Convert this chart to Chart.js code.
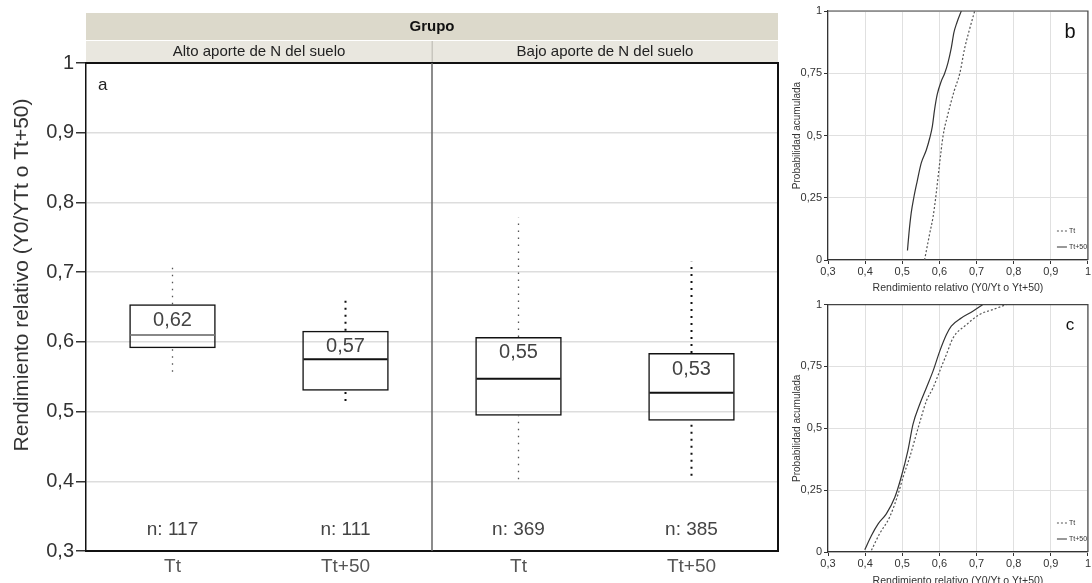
<!DOCTYPE html>
<html>
<head>
<meta charset="utf-8">
<script src="https://cdn.jsdelivr.net/npm/chart.js@4.4.1/dist/chart.umd.min.js"></script>
<style>
  html, body { margin: 0; padding: 0; background: #fff; }
  #wrap { position: relative; width: 1092px; height: 583px; overflow: hidden; }
  canvas { position: absolute; }
  #boxChart { left: 0; top: 0; }
  #cdfB { left: 780px; top: 0; }
  #cdfC { left: 780px; top: 296px; }
</style>
</head>
<body>
<div id="wrap">
  <canvas id="boxChart" width="785" height="583"></canvas>
  <canvas id="cdfB" width="312" height="296"></canvas>
  <canvas id="cdfC" width="312" height="287"></canvas>
</div>
<script>
Chart.defaults.font.family = '"Liberation Sans", Arial, sans-serif';
Chart.defaults.color = '#333';

// Panel a - box plots, one facet per soil N group
const groupTitle = 'Grupo';
const facets = ['Alto aporte de N del suelo', 'Bajo aporte de N del suelo'];
const categories = ['Tt', 'Tt+50'];
const whiskerLow = [0.557, 0.515, 0.403, 0.408];
const q1 = [0.591, 0.530, 0.494, 0.487];
const median = [0.610, 0.575, 0.547, 0.527];
const q3 = [0.654, 0.616, 0.607, 0.584];
const whiskerHigh = [0.713, 0.663, 0.778, 0.715];
const means = [0.62, 0.57, 0.55, 0.53];
const counts = [117, 111, 369, 385];

// Panels b and c - cumulative probability, [x, y]
const cdfBTt = [[0.560, 0], [0.574, 0.107], [0.583, 0.174], [0.590, 0.25], [0.600, 0.38], [0.610, 0.5],
  [0.622, 0.58], [0.640, 0.68], [0.655, 0.75], [0.668, 0.85], [0.680, 0.92], [0.695, 1]];
const cdfBTt50 = [[0.514, 0.038], [0.518, 0.107], [0.524, 0.188], [0.531, 0.25], [0.540, 0.315], [0.551, 0.389],
  [0.565, 0.443], [0.574, 0.49], [0.581, 0.537], [0.587, 0.604], [0.594, 0.664], [0.605, 0.718],
  [0.614, 0.749], [0.623, 0.792], [0.632, 0.852], [0.639, 0.913], [0.647, 0.953], [0.659, 1]];
const cdfCTt = [[0.417, 0.007], [0.439, 0.074], [0.466, 0.141], [0.489, 0.235], [0.502, 0.302], [0.520, 0.383],
  [0.538, 0.477], [0.551, 0.544], [0.565, 0.611], [0.583, 0.664], [0.601, 0.732], [0.619, 0.799],
  [0.637, 0.866], [0.673, 0.919], [0.708, 0.96], [0.744, 0.98], [0.780, 1]];
const cdfCTt50 = [[0.399, 0.009], [0.417, 0.067], [0.435, 0.114], [0.457, 0.154], [0.480, 0.221], [0.497, 0.302],
  [0.515, 0.409], [0.529, 0.517], [0.547, 0.597], [0.565, 0.664], [0.583, 0.732], [0.601, 0.812],
  [0.619, 0.879], [0.632, 0.913], [0.659, 0.946], [0.690, 0.973], [0.717, 1]];

// comma decimals, like the original
function fmt(v) {
  return (Math.round(v * 100) / 100).toString().replace('.', ',');
}

// unique keys so the repeated Tt / Tt+50 labels stay separate slots
const keys = [];
const tickText = [];
facets.forEach(f => categories.forEach(c => { keys.push(f + ' | ' + c); tickText.push(c); }));

const whiskerSets = keys.map((k, i) => {
  const isTt = tickText[i] === 'Tt';
  return {
    type: 'line',
    data: [{x: k, y: whiskerLow[i]}, {x: k, y: q1[i]}, {x: k, y: null}, {x: k, y: q3[i]}, {x: k, y: whiskerHigh[i]}],
    borderColor: isTt ? '#555' : '#111',
    borderWidth: isTt ? 1.3 : 2,
    borderDash: isTt ? [1.5, 5.5] : [2, 5],
    pointRadius: 0,
    spanGaps: false,
    order: 3
  };
});

const facetFrame = {
  id: 'facetFrame',
  beforeDraw(chart) {
    const {ctx, chartArea: a, scales: {x}} = chart;
    const mid = (x.getPixelForValue(1) + x.getPixelForValue(2)) / 2;
    ctx.save();
    ctx.fillStyle = '#dcd9cb';
    ctx.fillRect(a.left, 13, a.right - a.left, 27);
    ctx.fillStyle = '#e9e7df';
    ctx.fillRect(a.left, 41, a.right - a.left, a.top - 41);
    ctx.fillStyle = '#c8c6be';
    ctx.fillRect(mid - 0.5, 41, 1.5, a.top - 41);
    ctx.textAlign = 'center';
    ctx.textBaseline = 'middle';
    ctx.fillStyle = '#111';
    ctx.font = 'bold 15px "Liberation Sans", Arial';
    ctx.fillText(groupTitle, (a.left + a.right) / 2, 27);
    ctx.fillStyle = '#222';
    ctx.font = '15px "Liberation Sans", Arial';
    ctx.fillText(facets[0], (a.left + mid) / 2, 52);
    ctx.fillText(facets[1], (mid + a.right) / 2, 52);
    ctx.restore();
  },
  afterDraw(chart) {
    const {ctx, chartArea: a, scales: {x, y}} = chart;
    const mid = (x.getPixelForValue(1) + x.getPixelForValue(2)) / 2;
    ctx.save();
    // frame
    ctx.strokeStyle = '#111';
    ctx.lineWidth = 2;
    ctx.beginPath();
    ctx.moveTo(a.left, a.top);
    ctx.lineTo(a.right, a.top);
    ctx.lineTo(a.right, a.bottom);
    ctx.stroke();
    ctx.strokeStyle = '#666';
    ctx.lineWidth = 1.5;
    ctx.beginPath();
    ctx.moveTo(mid, a.top);
    ctx.lineTo(mid, a.bottom);
    ctx.stroke();
    // panel letter
    ctx.fillStyle = '#222';
    ctx.font = '17px "Liberation Sans", Arial';
    ctx.textAlign = 'left';
    ctx.textBaseline = 'middle';
    ctx.fillText('a', a.left + 12, a.top + 22);
    // means and counts
    ctx.textAlign = 'center';
    ctx.fillStyle = '#444';
    keys.forEach((k, i) => {
      const cx = x.getPixelForValue(i);
      ctx.font = '20px "Liberation Sans", Arial';
      ctx.fillText(fmt(means[i]), cx, y.getPixelForValue(q3[i]) + 16);
      ctx.font = '19px "Liberation Sans", Arial';
      ctx.fillText('n: ' + counts[i], cx, a.bottom - 21);
    });
    // y axis title
    ctx.translate(22, 275);
    ctx.rotate(-Math.PI / 2);
    ctx.fillStyle = '#333';
    ctx.font = '21px "Liberation Sans", Arial';
    ctx.fillText('Rendimiento relativo (Y0/YTt o Tt+50)', 0, 0);
    ctx.restore();
  }
};

new Chart(document.getElementById('boxChart'), {
  type: 'bar',
  data: {
    labels: keys,
    datasets: [
      ...whiskerSets,
      {
        type: 'bar',
        data: q1.map((v, i) => [v, q3[i]]),
        backgroundColor: 'rgba(0,0,0,0)',
        borderColor: '#111',
        borderWidth: 1.5,
        borderSkipped: false,
        barPercentage: 0.5,
        categoryPercentage: 1,
        order: 2
      },
      {
        type: 'line',
        data: median.map((v, i) => ({x: keys[i], y: v})),
        showLine: false,
        pointStyle: 'line',
        pointRadius: 42,
        pointBorderWidth: 2,
        pointBorderColor: ['#888', '#111', '#111', '#111'],
        order: 1
      }
    ]
  },
  options: {
    responsive: false,
    animation: false,
    events: [],
    layout: { autoPadding: false, padding: { top: 63, right: 7, left: 0, bottom: 0 } },
    plugins: { legend: { display: false }, tooltip: { enabled: false } },
    scales: {
      x: {
        grid: { display: false, drawTicks: false },
        border: { color: '#111', width: 2 },
        ticks: { color: '#555', font: { size: 19 }, padding: 4, maxRotation: 0, callback: (v, i) => tickText[i] },
        afterFit: s => { s.height = 32; s.paddingLeft = 0; s.paddingRight = 0; }
      },
      y: {
        min: 0.3,
        max: 1,
        ticks: { stepSize: 0.1, color: '#333', font: { size: 20 }, padding: 2, callback: v => fmt(v) },
        grid: { color: '#dddddd', lineWidth: 1.5, tickColor: '#333', tickLength: 10 },
        border: { color: '#111', width: 1.5 },
        afterFit: s => { s.width = 86; }
      }
    }
  },
  plugins: [facetFrame]
});

const cdfDecor = {
  id: 'cdfDecor',
  afterDraw(chart, args, opts) {
    const {ctx, chartArea: a} = chart;
    ctx.save();
    ctx.strokeStyle = '#444';
    ctx.lineWidth = 1.2;
    ctx.beginPath();
    ctx.moveTo(a.left, a.top);
    ctx.lineTo(a.right, a.top);
    ctx.lineTo(a.right, a.bottom);
    ctx.stroke();
    ctx.fillStyle = '#111';
    ctx.font = opts.letterSize + 'px "Liberation Sans", Arial';
    ctx.textAlign = 'center';
    ctx.textBaseline = 'middle';
    ctx.fillText(opts.letter, a.right - 18, a.top + 21);
    // legend
    ctx.font = '7px "Liberation Sans", Arial';
    ctx.textAlign = 'left';
    chart.data.datasets.forEach((ds, i) => {
      const ly = a.bottom - 29 + i * 16;
      ctx.strokeStyle = ds.borderColor;
      ctx.lineWidth = 1;
      ctx.setLineDash(ds.borderDash || []);
      ctx.beginPath();
      ctx.moveTo(a.right - 31, ly);
      ctx.lineTo(a.right - 21, ly);
      ctx.stroke();
      ctx.setLineDash([]);
      ctx.fillStyle = '#333';
      ctx.fillText(ds.label, a.right - 19, ly);
    });
    ctx.restore();
  }
};

function cdfChart(id, letter, letterSize, ttData, tt50Data, topPad, xHeight, titlePad) {
  return new Chart(document.getElementById(id), {
    type: 'scatter',
    data: {
      datasets: [
        {
          label: 'Tt',
          data: ttData.map(p => ({x: p[0], y: p[1]})),
          showLine: true,
          borderColor: '#555',
          borderDash: [2, 2],
          borderWidth: 1.2,
          pointRadius: 0,
          cubicInterpolationMode: 'monotone'
        },
        {
          label: 'Tt+50',
          data: tt50Data.map(p => ({x: p[0], y: p[1]})),
          showLine: true,
          borderColor: '#333',
          borderWidth: 1.2,
          pointRadius: 0,
          cubicInterpolationMode: 'monotone'
        }
      ]
    },
    options: {
      responsive: false,
      animation: false,
      events: [],
      layout: { padding: { top: topPad, right: 4, left: 0, bottom: 0 } },
      plugins: {
        legend: { display: false },
        tooltip: { enabled: false },
        cdfDecor: { letter: letter, letterSize: letterSize }
      },
      scales: {
        x: {
          type: 'linear',
          min: 0.3,
          max: 1,
          ticks: { stepSize: 0.1, autoSkip: false, maxRotation: 0, color: '#333', font: { size: 11 }, padding: 1, callback: v => fmt(v) },
          grid: { color: '#e0e0e0', tickColor: '#333', tickLength: 4 },
          border: { color: '#333', width: 1.2 },
          title: {
            display: true,
            text: 'Rendimiento relativo (Y0/Yt o Yt+50)',
            color: '#333',
            font: { size: 10.5, lineHeight: 1 },
            padding: { top: 0, bottom: titlePad }
          },
          afterFit: s => { s.height = xHeight; }
        },
        y: {
          min: 0,
          max: 1,
          ticks: { stepSize: 0.25, color: '#333', font: { size: 11 }, padding: 2, callback: v => fmt(v) },
          grid: { color: '#e0e0e0', tickColor: '#333', tickLength: 4 },
          border: { color: '#333', width: 1.2 },
          title: {
            display: true,
            text: 'Probabilidad acumulada',
            color: '#333',
            font: { size: 10, lineHeight: 1 },
            padding: { top: 12, bottom: 0 }
          },
          afterFit: s => { s.width = 48; }
        }
      }
    },
    plugins: [cdfDecor]
  });
}

cdfChart('cdfB', 'b', 20, cdfBTt, cdfBTt50, 11, 36, 3);
cdfChart('cdfC', 'c', 17, cdfCTt, cdfCTt50, 7, 31, -3);
</script>
</body>
</html>
